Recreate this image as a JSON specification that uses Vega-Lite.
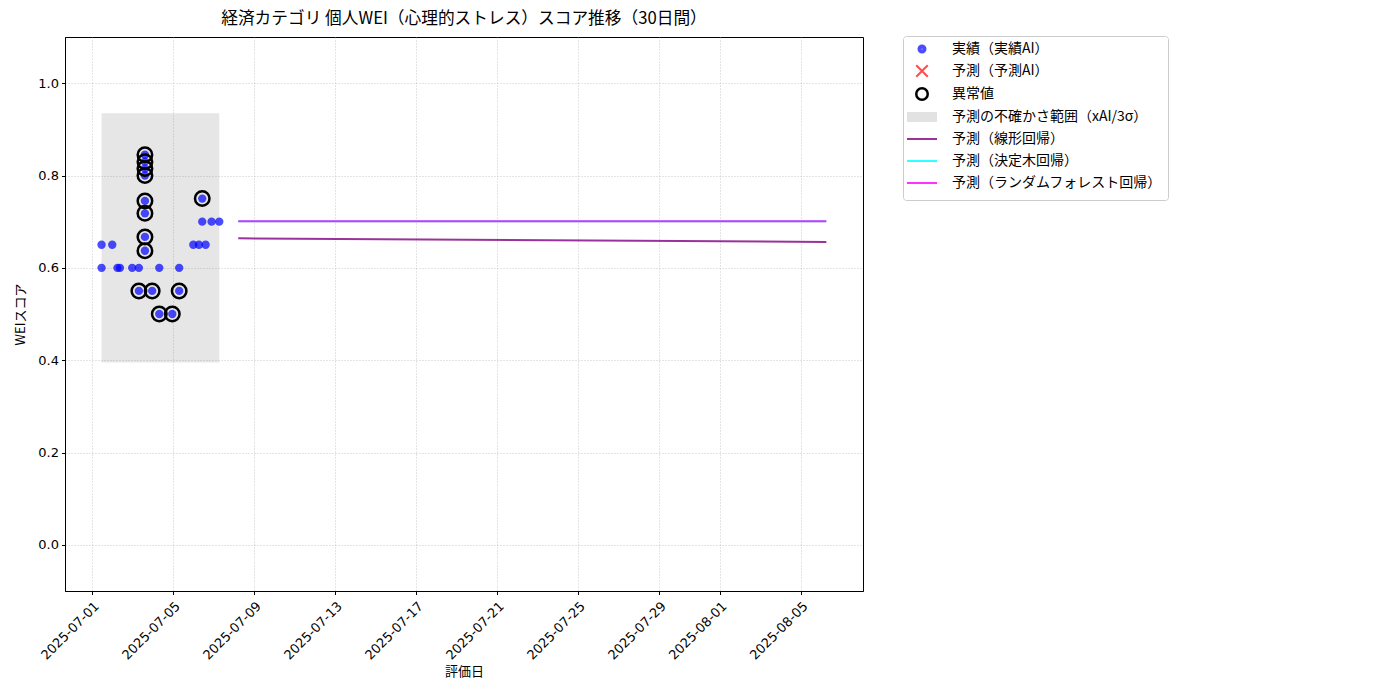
{
  "$schema": "https://vega.github.io/schema/vega-lite/v6.json",
  "autosize": {"type": "none"},
  "width": 798,
  "height": 554,
  "padding": {"left": 65, "top": 37, "right": 537, "bottom": 109},
  "background": "white",
  "title": {
    "text": "経済カテゴリ 個人WEI（心理的ストレス）スコア推移（30日間）",
    "fontSize": 16.7,
    "fontWeight": "normal",
    "anchor": "middle",
    "offset": 8,
    "color": "#000"
  },
  "datasets": {
    "actual": [
      {"date": "2025-07-01T11:00", "score": 0.65},
      {"date": "2025-07-01T11:00", "score": 0.60},
      {"date": "2025-07-01T23:40", "score": 0.65},
      {"date": "2025-07-02T05:50", "score": 0.60},
      {"date": "2025-07-02T08:50", "score": 0.60},
      {"date": "2025-07-02T23:20", "score": 0.60},
      {"date": "2025-07-03T07:15", "score": 0.60},
      {"date": "2025-07-03T07:15", "score": 0.55},
      {"date": "2025-07-03T14:25", "score": 0.845},
      {"date": "2025-07-03T14:25", "score": 0.83},
      {"date": "2025-07-03T14:25", "score": 0.815},
      {"date": "2025-07-03T14:25", "score": 0.80},
      {"date": "2025-07-03T14:25", "score": 0.745},
      {"date": "2025-07-03T14:25", "score": 0.718},
      {"date": "2025-07-03T14:25", "score": 0.667},
      {"date": "2025-07-03T14:25", "score": 0.637},
      {"date": "2025-07-03T23:00", "score": 0.55},
      {"date": "2025-07-04T07:25", "score": 0.60},
      {"date": "2025-07-04T07:25", "score": 0.50},
      {"date": "2025-07-04T22:50", "score": 0.50},
      {"date": "2025-07-05T07:00", "score": 0.60},
      {"date": "2025-07-05T07:00", "score": 0.55},
      {"date": "2025-07-05T23:45", "score": 0.65},
      {"date": "2025-07-06T06:25", "score": 0.65},
      {"date": "2025-07-06T10:20", "score": 0.75},
      {"date": "2025-07-06T10:20", "score": 0.70},
      {"date": "2025-07-06T14:20", "score": 0.65},
      {"date": "2025-07-06T21:25", "score": 0.70},
      {"date": "2025-07-07T06:30", "score": 0.70}
    ],
    "outliers": [
      {"date": "2025-07-03T07:15", "score": 0.55},
      {"date": "2025-07-03T14:25", "score": 0.845},
      {"date": "2025-07-03T14:25", "score": 0.83},
      {"date": "2025-07-03T14:25", "score": 0.815},
      {"date": "2025-07-03T14:25", "score": 0.80},
      {"date": "2025-07-03T14:25", "score": 0.745},
      {"date": "2025-07-03T14:25", "score": 0.718},
      {"date": "2025-07-03T14:25", "score": 0.667},
      {"date": "2025-07-03T14:25", "score": 0.637},
      {"date": "2025-07-03T23:00", "score": 0.55},
      {"date": "2025-07-04T07:25", "score": 0.50},
      {"date": "2025-07-04T22:50", "score": 0.50},
      {"date": "2025-07-05T07:00", "score": 0.55},
      {"date": "2025-07-06T10:20", "score": 0.75}
    ],
    "band": [
      {"start": "2025-07-01T11:00", "end": "2025-07-07T06:30", "lower": 0.395, "upper": 0.935}
    ],
    "forecast": [
      {"date": "2025-07-08T05:00", "value": 0.664, "model": "linear"},
      {"date": "2025-08-06T06:00", "value": 0.656, "model": "linear"},
      {"date": "2025-07-08T05:00", "value": 0.701, "model": "tree"},
      {"date": "2025-08-06T06:00", "value": 0.701, "model": "tree"},
      {"date": "2025-07-08T05:00", "value": 0.701, "model": "forest"},
      {"date": "2025-08-06T06:00", "value": 0.701, "model": "forest"}
    ],
    "legendItems": [
      {"series": "実績（実績AI）"},
      {"series": "予測（予測AI）"},
      {"series": "異常値"},
      {"series": "予測の不確かさ範囲（xAI/3σ）"},
      {"series": "予測（線形回帰）"},
      {"series": "予測（決定木回帰）"},
      {"series": "予測（ランダムフォレスト回帰）"}
    ]
  },
  "encoding": {
    "x": {
      "type": "temporal",
      "title": "評価日",
      "scale": {
        "domain": [
          {"year": 2025, "month": 6, "date": 29, "hours": 15, "minutes": 40},
          {"year": 2025, "month": 8, "date": 8, "hours": 1, "minutes": 30}
        ]
      },
      "axis": {
        "values": [
          {"year": 2025, "month": 7, "date": 1},
          {"year": 2025, "month": 7, "date": 5},
          {"year": 2025, "month": 7, "date": 9},
          {"year": 2025, "month": 7, "date": 13},
          {"year": 2025, "month": 7, "date": 17},
          {"year": 2025, "month": 7, "date": 21},
          {"year": 2025, "month": 7, "date": 25},
          {"year": 2025, "month": 7, "date": 29},
          {"year": 2025, "month": 8, "date": 1},
          {"year": 2025, "month": 8, "date": 5}
        ],
        "format": "%Y-%m-%d",
        "labelAngle": -45,
        "labelAlign": "right",
        "labelBaseline": "top",
        "labelPadding": 5,
        "labelOverlap": false,
        "titlePadding": 3
      }
    },
    "y": {
      "type": "quantitative",
      "title": "WEIスコア",
      "scale": {"domain": [-0.1, 1.1], "nice": false, "zero": false},
      "axis": {"values": [0, 0.2, 0.4, 0.6, 0.8, 1.0], "format": ".1f", "titlePadding": 10}
    }
  },
  "layer": [
    {
      "data": {"name": "band"},
      "mark": {"type": "rect", "color": "#808080", "opacity": 0.2},
      "encoding": {
        "x": {"field": "start"},
        "x2": {"field": "end"},
        "y": {"field": "lower"},
        "y2": {"field": "upper"}
      }
    },
    {
      "data": {"name": "actual"},
      "mark": {"type": "point", "filled": true, "size": 70, "color": "#0000ff", "opacity": 0.7},
      "encoding": {
        "x": {"field": "date"},
        "y": {"field": "score"}
      }
    },
    {
      "data": {"name": "outliers"},
      "mark": {"type": "point", "filled": false, "size": 210, "strokeWidth": 2.5, "color": "#000000", "opacity": 1},
      "encoding": {
        "x": {"field": "date"},
        "y": {"field": "score"}
      }
    },
    {
      "data": {"name": "forecast"},
      "transform": [{"filter": "datum.model == 'linear'"}],
      "mark": {"type": "line", "strokeWidth": 2, "color": "#800080", "opacity": 0.8},
      "encoding": {
        "x": {"field": "date"},
        "y": {"field": "value"}
      }
    },
    {
      "data": {"name": "forecast"},
      "transform": [{"filter": "datum.model == 'tree'"}],
      "mark": {"type": "line", "strokeWidth": 2, "color": "#00ffff", "opacity": 0.8},
      "encoding": {
        "x": {"field": "date"},
        "y": {"field": "value"}
      }
    },
    {
      "data": {"name": "forecast"},
      "transform": [{"filter": "datum.model == 'forest'"}],
      "mark": {"type": "line", "strokeWidth": 2, "color": "#ff00ff", "opacity": 0.8},
      "encoding": {
        "x": {"field": "date"},
        "y": {"field": "value"}
      }
    },
    {
      "data": {"name": "legendItems"},
      "transform": [{"filter": "false"}],
      "mark": {"type": "point", "filled": false, "size": 100},
      "encoding": {
        "x": {"datum": {"year": 2025, "month": 7, "date": 10}},
        "y": {"datum": 0.5},
        "color": {
          "field": "series",
          "type": "nominal",
          "scale": {
            "domain": ["実績（実績AI）", "予測（予測AI）", "異常値", "予測の不確かさ範囲（xAI/3σ）", "予測（線形回帰）", "予測（決定木回帰）", "予測（ランダムフォレスト回帰）"],
            "range": ["#0000ff", "#ff0000", "#000000", "#808080", "#800080", "#00ffff", "#ff00ff"]
          },
          "legend": {
            "title": null,
            "orient": "none",
            "legendX": 838,
            "legendY": -1,
            "padding": 6,
            "rowPadding": 0,
            "symbolSize": 100,
            "symbolOffset": 6,
            "labelOffset": 23,
            "labelFontSize": 14,
            "labelLimit": 400,
            "strokeColor": "#cccccc",
            "fillColor": "white",
            "cornerRadius": 3
          }
        },
        "shape": {
          "field": "series",
          "type": "nominal",
          "scale": {
            "domain": ["実績（実績AI）", "予測（予測AI）", "異常値", "予測の不確かさ範囲（xAI/3σ）", "予測（線形回帰）", "予測（決定木回帰）", "予測（ランダムフォレスト回帰）"],
            "range": [
              "M0,-1.4M0,1.4M-0.1,0A0.1,0.1 0 1,0 0.1,0A0.1,0.1 0 1,0 -0.1,0M-0.35,0A0.35,0.35 0 1,0 0.35,0A0.35,0.35 0 1,0 -0.35,0M-0.7,0A0.7,0.7 0 1,0 0.7,0A0.7,0.7 0 1,0 -0.7,0",
              "M0,-1.4M0,1.4M-1.15,-1.15L1.15,1.15M-1.15,1.15L1.15,-1.15",
              "M0,-1.4M0,1.4M-1.15,0A1.15,1.15 0 1,0 1.15,0A1.15,1.15 0 1,0 -1.15,0",
              "M0,-1.4M0,1.4M-3,-0.8H3M-3,-0.4H3M-3,0H3M-3,0.4H3M-3,0.8H3",
              "M0,-1.4M0,1.4M-3,0H3",
              "M0,-1.4M0,1.4M-3,0H3",
              "M0,-1.4M0,1.4M-3,0H3"
            ]
          },
          "legend": {"title": null}
        },
        "strokeWidth": {
          "field": "series",
          "type": "ordinal",
          "scale": {
            "type": "ordinal",
            "domain": ["実績（実績AI）", "予測（予測AI）", "異常値", "予測の不確かさ範囲（xAI/3σ）", "予測（線形回帰）", "予測（決定木回帰）", "予測（ランダムフォレスト回帰）"],
            "range": [2, 2, 2.5, 2, 2, 2, 2]
          },
          "legend": {"title": null}
        },
        "opacity": {
          "field": "series",
          "type": "ordinal",
          "scale": {
            "type": "ordinal",
            "domain": ["実績（実績AI）", "予測（予測AI）", "異常値", "予測の不確かさ範囲（xAI/3σ）", "予測（線形回帰）", "予測（決定木回帰）", "予測（ランダムフォレスト回帰）"],
            "range": [0.7, 0.7, 1, 0.22, 0.8, 0.8, 0.8]
          },
          "legend": {"title": null}
        }
      }
    }
  ],
  "config": {
    "font": "Noto Sans CJK JP",
    "view": {"stroke": "#000000", "strokeWidth": 1},
    "axis": {
      "domainColor": "#000000",
      "tickColor": "#000000",
      "tickSize": 3.5,
      "labelColor": "#000000",
      "labelFont": "DejaVu Sans",
      "labelFontSize": 13,
      "labelPadding": 3,
      "titleColor": "#000000",
      "titleFontSize": 13,
      "titleFontWeight": "normal",
      "grid": true,
      "gridColor": "#b0b0b0",
      "gridOpacity": 0.7,
      "gridDash": [1, 2]
    },
    "legend": {"labelColor": "#000000"}
  }
}
